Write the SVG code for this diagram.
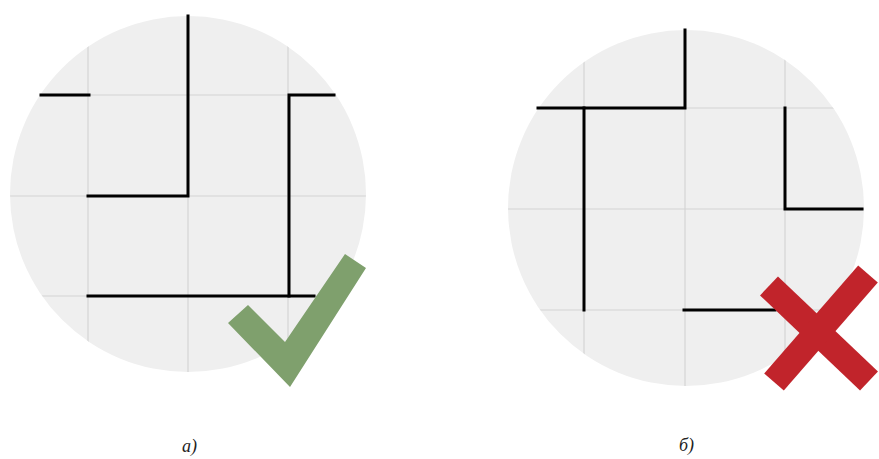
<svg xmlns="http://www.w3.org/2000/svg" width="879" height="459" viewBox="0 0 879 459">
  <style>
    .disc { fill: #efefef; }
    .grid { stroke: #d4d4d4; stroke-width: 1.2; fill: none; }
    .wall { stroke: #000; stroke-width: 3; fill: none; stroke-linecap: square; }
    .lbl { font-family: "Liberation Serif", serif; font-style: italic; font-size: 18px; fill: #222; }
  </style>
  <defs>
    <clipPath id="clipA"><circle cx="188" cy="194" r="178"/></clipPath>
    <clipPath id="clipB"><circle cx="686" cy="208" r="178"/></clipPath>
  </defs>
  <rect width="879" height="459" fill="#fff"/>

  <g id="panel-a">
    <circle class="disc" cx="188" cy="194" r="178"/>
    <g clip-path="url(#clipA)" class="grid">
      <line x1="88" y1="0" x2="88" y2="400"/>
      <line x1="188" y1="0" x2="188" y2="400"/>
      <line x1="288" y1="0" x2="288" y2="400"/>
      <line x1="0" y1="95" x2="400" y2="95"/>
      <line x1="0" y1="196" x2="400" y2="196"/>
      <line x1="0" y1="296" x2="400" y2="296"/>
    </g>
    <g class="wall">
      <line x1="41" y1="95" x2="89" y2="95"/>
      <polyline points="188,16 188,196 88,196"/>
      <polyline points="334,95 289,95 289,296"/>
      <line x1="88" y1="296" x2="314" y2="296"/>
    </g>
    <polygon id="check" points="228,323 248,305 285,342 345,254 366,268 290,387" fill="#7fa06d"/>
    <text class="lbl" x="182" y="452">а)</text>
  </g>

  <g id="panel-b">
    <circle class="disc" cx="686" cy="208" r="178"/>
    <g clip-path="url(#clipB)" class="grid">
      <line x1="584" y1="0" x2="584" y2="420"/>
      <line x1="685" y1="0" x2="685" y2="420"/>
      <line x1="785" y1="0" x2="785" y2="420"/>
      <line x1="490" y1="108" x2="880" y2="108"/>
      <line x1="490" y1="209" x2="880" y2="209"/>
      <line x1="490" y1="310" x2="880" y2="310"/>
    </g>
    <g class="wall">
      <polyline points="685,30 685,108 538,108"/>
      <line x1="584" y1="108" x2="584" y2="310"/>
      <polyline points="785,108 785,209 862,209"/>
      <line x1="684" y1="310" x2="775" y2="310"/>
    </g>
    <g id="cross" stroke="#c1242b" stroke-width="26">
      <line x1="769" y1="286" x2="869" y2="381"/>
      <line x1="868" y1="274" x2="774" y2="382"/>
    </g>
    <text class="lbl" x="679" y="451">б)</text>
  </g>
</svg>
